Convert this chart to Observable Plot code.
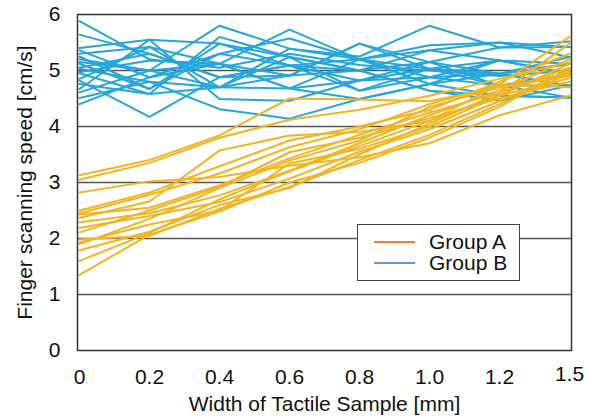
<!DOCTYPE html>
<html><head><meta charset="utf-8">
<script src="https://cdn.jsdelivr.net/npm/d3@7"></script>
<script src="https://cdn.jsdelivr.net/npm/@observablehq/plot@0.6"></script>
<style>
body{margin:0;background:#fff;font-family:"Liberation Sans",Arial,sans-serif}
#wrap{position:relative;width:597px;height:420px}
#legend{position:absolute;left:357px;top:224px;width:161px;height:55px;border:1px solid #444;background:#fff;font-size:21px;color:#111}
.li{position:absolute;left:16px;width:41px;height:2px}
.lt{position:absolute;left:71px;line-height:22px}
</style></head><body>
<div id="wrap"><div id="legend">
<div class="li" style="top:16px;background:#ED7D31"></div><div class="lt" style="top:6px">Group A</div>
<div class="li" style="top:37px;background:#5B9BD5"></div><div class="lt" style="top:27px">Group B</div>
</div></div>
<script>
const widths = ["0","0.2","0.4","0.6","0.8","1.0","1.2","1.5"];
const yTicks = [0,1,2,3,4,5,6];
const groupA = [
  [3.13,3.40,3.84,4.50,4.48,4.45,4.70,4.95],
  [3.05,3.35,3.80,4.12,4.30,4.55,4.85,5.15],
  [2.82,3.02,3.10,3.30,3.45,3.70,4.20,4.55],
  [2.50,2.82,3.29,3.75,4.00,4.30,4.80,5.30],
  [2.45,2.78,3.16,3.63,3.95,4.40,4.75,5.60],
  [2.43,2.55,2.95,3.43,3.85,4.25,4.60,5.05],
  [2.37,2.66,3.57,3.84,3.90,4.10,4.55,4.86],
  [2.29,2.45,2.77,3.21,3.70,4.20,4.65,5.20],
  [2.19,2.40,2.65,3.07,3.55,3.95,4.45,5.00],
  [2.11,2.50,2.92,3.54,3.80,4.15,4.50,4.80],
  [1.98,2.05,2.53,2.92,3.40,3.85,4.40,4.95],
  [1.93,2.25,2.50,3.34,3.60,4.00,4.55,5.12],
  [1.90,2.35,2.90,3.39,3.75,4.35,4.70,4.90],
  [1.79,2.12,2.60,2.90,3.50,4.05,4.60,5.48],
  [1.60,2.10,2.70,3.20,3.65,4.10,4.75,4.70],
  [1.35,2.07,2.48,3.00,3.35,3.80,4.35,5.04]
];
const groupB = [
  [5.88,5.20,5.05,5.30,5.10,5.00,4.90,5.00],
  [5.64,5.30,4.88,5.09,5.20,5.36,5.18,5.12],
  [5.40,5.55,5.48,5.24,5.00,5.15,5.41,5.52],
  [5.36,4.88,5.12,5.73,5.20,4.88,4.94,4.73],
  [5.30,5.42,4.70,4.91,5.48,5.03,4.73,4.94],
  [5.20,5.00,5.80,5.39,5.25,5.80,5.41,5.42],
  [5.12,4.67,5.30,5.57,5.20,5.45,5.50,5.24],
  [5.03,4.80,4.31,4.14,4.49,4.76,4.55,4.52],
  [4.97,5.18,5.12,4.68,4.82,5.15,4.94,5.12],
  [4.82,4.17,4.88,5.09,5.00,4.64,4.46,4.73],
  [4.76,4.58,5.60,5.24,4.64,5.03,5.18,4.94],
  [4.67,5.55,4.49,4.46,4.82,4.88,4.73,4.52],
  [4.61,5.00,5.12,4.91,5.00,5.36,5.50,5.42],
  [4.51,4.80,4.70,4.68,5.20,4.76,4.94,5.12],
  [4.40,4.88,5.30,5.09,4.64,4.88,5.18,4.94],
  [5.05,5.30,4.88,4.91,5.48,5.15,4.73,4.73],
  [4.95,4.58,4.70,5.24,5.00,4.64,4.55,4.52],
  [5.25,4.67,5.48,5.09,4.82,5.03,4.94,5.24],
  [4.85,5.42,5.12,4.68,4.49,4.76,5.18,4.94],
  [5.15,5.00,4.70,5.39,5.20,5.03,4.94,4.73]
];
const toRows = (g, name) => g.flatMap((s, i) => s.map((v, j) => ({id: name + i, x: widths[j], y: v})));
const rowsA = toRows(groupA, "A");
const rowsB = toRows(groupB, "B");
const chart = Plot.plot({
  width: 597, height: 420,
  marginLeft: 77, marginRight: 26, marginTop: 14, marginBottom: 70,
  style: {fontFamily: "'Liberation Sans', Arial, sans-serif", fontSize: "21px", color: "#111", background: "#fff", overflow: "visible"},
  x: {type: "point", domain: widths, padding: 0, label: null},
  y: {domain: [0, 6], label: null},
  marks: [
    Plot.gridY([1,2,3,4,5], {stroke: "#555", strokeOpacity: 1, strokeWidth: 1.3}),
    Plot.lineY(rowsB, {x: "x", y: "y", z: "id", stroke: "#25A6DC", strokeWidth: 2}),
    Plot.lineY(rowsA, {x: "x", y: "y", z: "id", stroke: "#F3B51F", strokeWidth: 2}),
    Plot.frame({stroke: "#333", strokeWidth: 1.5}),
    Plot.axisY(yTicks, {tickSize: 0, tickPadding: 17, fontSize: 21, tickFormat: d => String(d), label: null}),
    Plot.axisX(widths.slice(0, -1), {tickSize: 0, tickPadding: 19, fontSize: 21, label: null}),
    Plot.axisX(widths.slice(-1), {tickSize: 0, tickPadding: 16, fontSize: 21, label: null}),
    Plot.text(["Finger scanning speed [cm/s]"], {frameAnchor: "left", textAnchor: "middle", rotate: -90, dx: -52, fontSize: 21, fill: "#111"}),
    Plot.text(["Width of Tactile Sample [mm]"], {frameAnchor: "bottom", textAnchor: "middle", dy: 60, fontSize: 21, fill: "#111"})
  ]
});
document.getElementById("wrap").prepend(chart);
</script>
</body></html>
